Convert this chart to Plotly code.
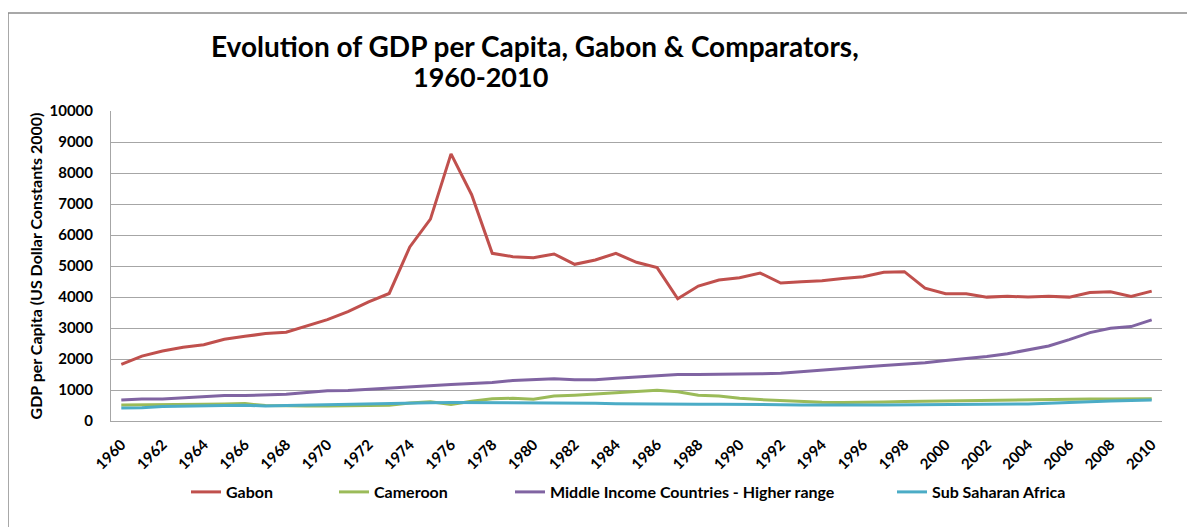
import plotly.graph_objects as go

# --- data ---
years = list(range(1960, 2011))

gabon = [1825, 2095, 2257, 2376, 2462, 2635, 2732, 2819, 2862, 3056,
         3272, 3531, 3844, 4114, 5615, 6512, 8618, 7300, 5410, 5302,
         5270, 5389, 5054, 5194, 5410, 5119, 4946, 3942, 4352, 4546,
         4622, 4773, 4449, 4492, 4525, 4600, 4654, 4795, 4816, 4287,
         4104, 4104, 3996, 4028, 3996, 4028, 3996, 4147, 4168, 4017,
         4190]

cameroon = [518, 518, 520, 530, 540, 550, 562, 497, 480, 485,
            486, 490, 497, 510, 580, 620, 535, 640, 715, 734,
            702, 805, 831, 870, 907, 950, 994, 945, 831, 810,
            734, 691, 659, 626, 605, 594, 594, 610, 630, 640,
            650, 660, 680, 690, 700, 705, 705, 710, 710, 710,
            715]

middle_income = [680, 713, 713, 745, 767, 821, 821, 842, 864, 918,
                 972, 983, 1026, 1069, 1112, 1134, 1177, 1210, 1245, 1307,
                 1339, 1361, 1328, 1328, 1382, 1415, 1458, 1501, 1501, 1501,
                 1501, 1523, 1544, 1587, 1631, 1674, 1739, 1793, 1825, 1879,
                 1955, 2009, 2084, 2171, 2300, 2419, 2624, 2851, 2991, 3045,
                 3261]

ssa = [421, 430, 464, 480, 497, 500, 505, 486, 500, 515,
       529, 545, 560, 572, 580, 590, 594, 594, 594, 594,
       594, 590, 580, 572, 560, 550, 540, 540, 540, 540,
       540, 535, 525, 515, 508, 508, 518, 520, 522, 525,
       529, 535, 540, 545, 550, 575, 605, 625, 645, 660,
       680]

series_names = ["Gabon", "Cameroon", "Middle Income Countries - Higher range", "Sub Saharan Africa"]
series_values = [gabon, cameroon, middle_income, ssa]
series_colors = ["#C0504D", "#9BBB59", "#8064A2", "#4BACC6"]

tick_years = list(range(1960, 2011, 2))
y_ticks = list(range(0, 10001, 1000))

# --- layout geometry ---
# the page body has an 8px margin, so work in screen pixels and shift
OFF = 8
W, H = 1195 - OFF, 527 - OFF
PLOT_L, PLOT_R, PLOT_T, PLOT_B = 111, 1162, 111, 421   # screen px
L, T = PLOT_L - OFF, PLOT_T - OFF
R, B = W - (PLOT_R - OFF), H - (PLOT_B - OFF)
plot_w = PLOT_R - PLOT_L
plot_h = PLOT_B - PLOT_T

def px_x(x):
    return (x - PLOT_L) / plot_w

def px_y(y):
    return (PLOT_B - y) / plot_h

FONT = "Lato, 'Open Sans', sans-serif"
GRID = "#A6A6A6"

fig = go.Figure()

legend_ids = ["legend", "legend2", "legend3", "legend4"]
legend_line_start = [194, 342, 518, 900]   # screen px where each legend swatch starts

for name, vals, col, lg in zip(series_names, series_values, series_colors, legend_ids):
    fig.add_trace(go.Scatter(
        x=years, y=vals, name=name, mode="lines",
        line=dict(color=col, width=3),
        legend=lg,
    ))

legend_style = dict(
    orientation="h", yanchor="middle", xanchor="left",
    bgcolor="rgba(0,0,0,0)", borderwidth=0,
    font=dict(family=FONT, size=16, color="#000000", weight="bold"),
)
layout_legends = {}
for lg, lx in zip(legend_ids, legend_line_start):
    layout_legends[lg] = dict(x=px_x(lx - 8), y=px_y(492), **legend_style)

fig.update_layout(
    width=W, height=H,
    margin=dict(l=L, r=R, t=T, b=B, autoexpand=False),
    paper_bgcolor="white",
    plot_bgcolor="white",
    font=dict(family=FONT, color="#000000"),
    showlegend=True,
    **layout_legends,
)

fig.update_xaxes(
    range=[1959.5, 2010.5],
    tickvals=tick_years,
    ticktext=[str(y) for y in tick_years],
    tickangle=-45,
    tickfont=dict(family=FONT, size=15, weight="bold"),
    ticks="outside", ticklen=8, tickcolor="rgba(0,0,0,0)",
    showgrid=False, zeroline=False,
    showline=True, linecolor=GRID, linewidth=1,
)

fig.update_yaxes(
    range=[0, 10000],
    tickvals=y_ticks,
    ticktext=[str(v) for v in y_ticks],
    tickfont=dict(family=FONT, size=15, weight="bold"),
    ticks="outside", ticklen=14, tickcolor="rgba(0,0,0,0)",
    showgrid=True, gridcolor=GRID, gridwidth=1,
    zeroline=False,
    showline=True, linecolor=GRID, linewidth=1,
    title=dict(text="GDP per Capita (US Dollar Constants 2000)",
               font=dict(family=FONT, size=16, weight="bold"),
               standoff=2),
)

# title, two lines placed as in the reference
fig.add_annotation(
    text="Evolution of GDP per Capita, Gabon & Comparators,",
    xref="paper", yref="paper", x=px_x(535), y=px_y(46),
    xanchor="center", yanchor="middle", showarrow=False,
    font=dict(family=FONT, size=28, color="#000000", weight="bold"),
)
fig.add_annotation(
    text="1960-2010",
    xref="paper", yref="paper", x=px_x(480), y=px_y(76),
    xanchor="center", yanchor="middle", showarrow=False,
    font=dict(family=FONT, size=27, color="#000000", weight="bold"),
)

# outer chart border
fig.add_shape(
    type="rect", xref="paper", yref="paper",
    x0=px_x(8), y0=px_y(560), x1=px_x(1230), y1=px_y(13),
    line=dict(color="#8C8C8C", width=1.5), fillcolor="rgba(0,0,0,0)",
    layer="below",
)

fig.write_html("out.html")
